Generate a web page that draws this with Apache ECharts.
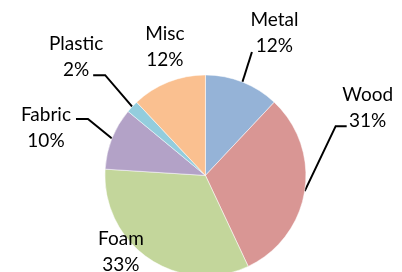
<!DOCTYPE html>
<html>
<head>
<meta charset="utf-8">
<script src="https://cdn.jsdelivr.net/npm/echarts@6/dist/echarts.min.js"></script>
<style>
  html, body { margin: 0; padding: 0; background: #fff; }
  #chart { width: 402px; height: 272px; }
</style>
</head>
<body>
<div id="chart"></div>
<script>
// data
const categories = ['Metal', 'Wood', 'Foam', 'Fabric', 'Plastic', 'Misc'];
const shares = [12, 31, 33, 10, 2, 12];

// look
const sliceColors = ['#95B3D7', '#D99694', '#C3D69B', '#B3A2C7', '#93CDDD', '#FAC090'];
const noLeader = ['Foam', 'Misc'];

// label block centre, relative to the slice's outer mid point
const labelOffset = [[32, -49.5], [63, -83], [-28, -6.5], [-66, -10.5], [-56, -49.5], [-3.5, -35.3]];
// where the leader line meets the label, relative to the label centre
const lineEnd = [[-22.5, 19.5], [-21, 18], null, [30, -9], [17, 18], null];
// horizontal stub of the leader line
const lineStub = [0, -11, 0, 12, 12, 0];

const chart = echarts.init(document.getElementById('chart'));

// outer mid point of a slice, from the pie's own layout
function midEdge(i) {
  const lay = chart.getModel().getSeriesByIndex(0).getData().getItemLayout(i);
  const a = (lay.startAngle + lay.endAngle) / 2;
  return [lay.cx + lay.r * Math.cos(a), lay.cy + lay.r * Math.sin(a)];
}

const option = {
  animation: false,
  series: [
    {
      type: 'pie',
      center: ['51.1%', '64.5%'],
      radius: 100.5,
      startAngle: 90,
      clockwise: true,
      avoidLabelOverlap: false,
      emphasis: { disabled: true },
      itemStyle: { borderColor: '#fff', borderWidth: 0.5 },
      label: {
        show: true,
        position: 'outside',
        formatter: '{b}\n{d}%',
        color: '#000',
        fontFamily: 'Lato',
        fontSize: 19,
        lineHeight: 26
      },
      labelLine: {
        show: true,
        length: 10,
        length2: 5,
        smooth: false,
        lineStyle: { color: '#000', width: 2 }
      },
      labelLayout: function (p) {
        const i = p.dataIndex;
        const e = midEdge(i);
        const c = [e[0] + labelOffset[i][0], e[1] + labelOffset[i][1]];
        const res = { x: c[0], y: c[1], align: 'center', verticalAlign: 'middle' };
        if (lineEnd[i]) {
          const end = [c[0] + lineEnd[i][0], c[1] + lineEnd[i][1]];
          res.labelLinePoints = [e, [end[0] + lineStub[i], end[1]], end];
        }
        return res;
      },
      data: categories.map(function (name, i) {
        const item = { name: name, value: shares[i], itemStyle: { color: sliceColors[i] } };
        if (noLeader.indexOf(name) >= 0) item.labelLine = { show: false };
        return item;
      })
    }
  ]
};

chart.setOption(option);
</script>
</body>
</html>
